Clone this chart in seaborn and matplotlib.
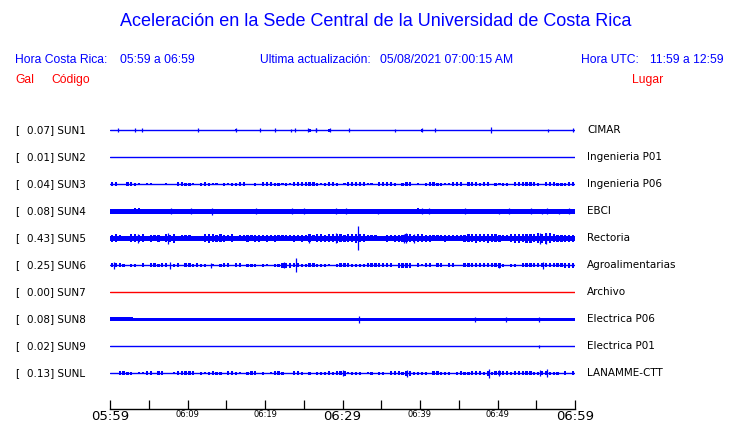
import matplotlib
matplotlib.use("Agg")
import matplotlib.pyplot as plt
import pandas as pd
import seaborn as sns

# estaciones
codigos = ["SUN1", "SUN2", "SUN3", "SUN4", "SUN5", "SUN6", "SUN7", "SUN8", "SUN9", "SUNL"]
gal = [0.07, 0.01, 0.04, 0.08, 0.43, 0.25, 0.00, 0.08, 0.02, 0.13]
lugares = ["CIMAR", "Ingenieria P01", "Ingenieria P06", "EBCI", "Rectoria",
           "Agroalimentarias", "Archivo", "Electrica P06", "Electrica P01", "LANAMME-CTT"]
colores = ["#0000ff"] * 6 + ["#ff0000"] + ["#0000ff"] * 3

# banda continua de ruido (alto total, px)
banda = [0, 0, 0, 4.4, 4.8, 0, 0, 3.4, 0, 0]

# envolvente en bloques de 30 s (hex = alto total en px), 120 bloques = 60 min
env_sun1 = "0000000000 0000000000 0000000000 0020000000 0000000000 0300003000 0000000000 0000000000 3000000000 0000000000 0000000000 0000000000"
env_sun2 = "0" * 120
env_sun3 = "4400443202 2000200443 3203432203 2334400304 4433232444 4443234430 2444442204 4443034402 0344332244 4044434403 2330444444 3044433344"
env_sun4 = "0000006600 0005000000 0000000000 0000000000 0000000000 0005500000 0000000000 0000000006 0000000000 0000000000 0000000000 0000000000"
env_sun5 = "7865088780 7670879066 6050898787 6806676776 7676666767 6868878898 7889886665 0767778878 8776667666 6788988988 7668998998 a9ba877777"
env_sun6 = "4443033040 4434403404 4343302034 4044033303 2033555443 3443332034 4433334444 4440555504 2440440440 0444444444 5303304444 4444444555"
env_sun7 = "0" * 120
env_sun8 = "4444440000 0000000000 0000000000 0000000000 0000000000 0000000000 0000000000 0000000000 0000000000 0000000000 0000000000 0000000000"
env_sun9 = "0" * 120
env_sunl = "0044330224 4044002444 4403234330 4432034403 0244300443 0303334344 5233302303 3044435533 3304433303 4334443534 4443444443 3443330404"

# picos sueltos: minuto desde 05:59 y semiamplitud (px)
picos_sun1_t = [1.03, 3.23, 4.14, 11.38, 16.29, 19.40, 21.34, 23.41, 23.92, 25.61, 26.52, 26.64,
                28.45, 30.78, 36.73, 40.22, 41.90, 49.14, 56.51, 59.74]
picos_sun1_a = [1.8, 1.8, 1.8, 1.8, 1.8, 1.8, 1.8, 1.3, 1.8, 2.0, 1.8, 1.8,
                2.0, 1.8, 1.3, 2.0, 1.8, 3.0, 1.3, 1.8]
picos_sun4_t = [7.84, 10.47, 13.15, 18.84, 23.45, 25.0, 29.13, 30.43, 34.53, 40.26, 41.12, 45.78,
                50.17, 51.47, 54.27, 55.7, 56.42, 57.93, 59.23]
picos_sun4_a = [3.0, 2.8, 3.3, 3.0, 2.8, 3.0, 2.8, 2.8, 2.6, 3.0, 2.8, 3.0,
                2.6, 2.8, 3.0, 2.6, 2.8, 2.6, 3.0]
picos_sun5_t = [3.66, 7.54, 25.69, 29.14, 31.94, 37.89, 38.19, 39.27, 55.44, 56.25]
picos_sun5_a = [4.5, 5.7, 4.5, 5.0, 12.0, 4.5, 5.0, 4.5, 5.5, 5.3]
picos_sun6_t = [0.56, 7.8, 13.02, 22.46, 23.96, 37.76, 50.17, 55.86]
picos_sun6_a = [3.3, 3.3, 2.5, 3.0, 7.0, 2.0, 2.5, 3.5]
picos_sun8_t = [32.07, 47.07, 51.08, 55.35]
picos_sun8_a = [3.2, 2.3, 2.2, 2.4]
picos_sun9_t = [55.35]
picos_sun9_a = [1.3]
picos_sunl_t = [30.0, 38.28, 48.88, 50.17, 55.44, 56.42]
picos_sunl_a = [3.0, 3.5, 4.5, 3.0, 3.0, 4.0]

# eje de tiempo
minutos_ticks = list(range(0, 61, 5))
etiquetas = ["05:59", "", "06:09", "", "06:19", "", "06:29", "", "06:39", "", "06:49", "", "06:59"]
grandes = ["05:59", "06:29", "06:59"]

envolventes = [env_sun1, env_sun2, env_sun3, env_sun4, env_sun5,
               env_sun6, env_sun7, env_sun8, env_sun9, env_sunl]
picos = {"SUN1": (picos_sun1_t, picos_sun1_a), "SUN4": (picos_sun4_t, picos_sun4_a),
         "SUN5": (picos_sun5_t, picos_sun5_a), "SUN6": (picos_sun6_t, picos_sun6_a),
         "SUN8": (picos_sun8_t, picos_sun8_a), "SUN9": (picos_sun9_t, picos_sun9_a),
         "SUNL": (picos_sunl_t, picos_sunl_a)}

sns.set_style("white")
plt.rcParams["font.family"] = ["DejaVu Sans"]
plt.rcParams["text.color"] = "black"

W, H = 740, 423
fig = plt.figure(figsize=(W / 100, H / 100), dpi=100)
ax_top, ax_bot = 115, 409
ax = fig.add_axes([110 / W, (H - ax_bot) / H, 465 / W, (ax_bot - ax_top) / H])

fila0, paso = 130.3, 27
filas = [fila0 - ax_top + paso * k for k in range(len(codigos))]

# linea base de cada estacion
df = pd.DataFrame({"minuto": [0, 60] * len(codigos),
                   "y": [f for f in filas for _ in range(2)],
                   "codigo": [c for c in codigos for _ in range(2)]})
sns.lineplot(data=df, x="minuto", y="y", hue="codigo", units="codigo", estimator=None,
             palette=dict(zip(codigos, colores)), legend=False, lw=1.0, ax=ax)

for k, cod in enumerate(codigos):
    y, col = filas[k], colores[k]
    if banda[k] > 0:
        ax.fill_between([0, 60], y - banda[k] / 2, y + banda[k] / 2, color=col, lw=0)
    vals = [int(c, 16) for c in envolventes[k].replace(" ", "")]
    xs = [0.25 + 0.5 * i for i, v in enumerate(vals) if v > banda[k]]
    hs = [v for v in vals if v > banda[k]]
    ancho = 0.5 if cod == "SUN8" else 0.3
    if xs:
        ax.bar(xs, hs, bottom=[y - h / 2 for h in hs], width=ancho, color=col, lw=0)
    if cod in picos:
        t, a = picos[cod]
        ax.vlines(t, [y - v for v in a], [y + v for v in a], color=col, lw=0.9)

ax.set_xlim(0, 60)
ax.set_ylim(ax_bot - ax_top, 0)
ax.set_xlabel("")
ax.set_ylabel("")
ax.set_yticks([])
for s in ["top", "left", "right"]:
    ax.spines[s].set_visible(False)
ax.spines["bottom"].set_linewidth(1.0)
ax.spines["bottom"].set_color("black")
ax.set_xticks(minutos_ticks)
ax.set_xticklabels(etiquetas)
ax.tick_params(axis="x", bottom=True, direction="in", length=6.5, width=0.9, pad=1,
               colors="black")
for lab in ax.get_xticklabels():
    lab.set_fontsize(9.5 if lab.get_text() in grandes else 6)

# etiquetas de estaciones
for k, cod in enumerate(codigos):
    yf = 1 - (filas[k] + ax_top) / H
    fig.text(15 / W, yf, "[", fontsize=7.5, va="center")
    fig.text(27 / W, yf, f"{gal[k]:.2f}] {cod}", fontsize=7.5, va="center")
    fig.text(587 / W, yf, lugares[k], fontsize=7.5, va="center")

# encabezado
azul, rojo = "#0000ff", "#ff0000"
hel = ["Liberation Sans", "DejaVu Sans"]
fs = 8.7
fig.text(376 / W, 1 - 22 / H, "Aceleración en la Sede Central de la Universidad de Costa Rica",
         ha="center", va="center", fontsize=13, color=azul, family=hel)
y2 = 1 - 60 / H
fig.text(15 / W, y2, "Hora Costa Rica:", fontsize=fs, color=azul, va="center", family=hel)
fig.text(120 / W, y2, "05:59 a 06:59", fontsize=fs, color=azul, va="center", family=hel)
fig.text(260 / W, y2, "Ultima actualización:", fontsize=fs, color=azul, va="center", family=hel)
fig.text(380 / W, y2, "05/08/2021 07:00:15 AM", fontsize=fs, color=azul, va="center", family=hel)
fig.text(581 / W, y2, "Hora UTC:", fontsize=fs, color=azul, va="center", family=hel)
fig.text(724 / W, y2, "11:59 a 12:59", fontsize=fs, color=azul, va="center", ha="right", family=hel)
y3 = 1 - 80 / H
fig.text(15 / W, y3, "Gal", fontsize=fs, color=rojo, va="center", family=hel)
fig.text(51 / W, y3, "Código", fontsize=fs, color=rojo, va="center", family=hel)
fig.text(632 / W, y3, "Lugar", fontsize=fs, color=rojo, va="center", family=hel)

fig.savefig("out.png", dpi=100)
